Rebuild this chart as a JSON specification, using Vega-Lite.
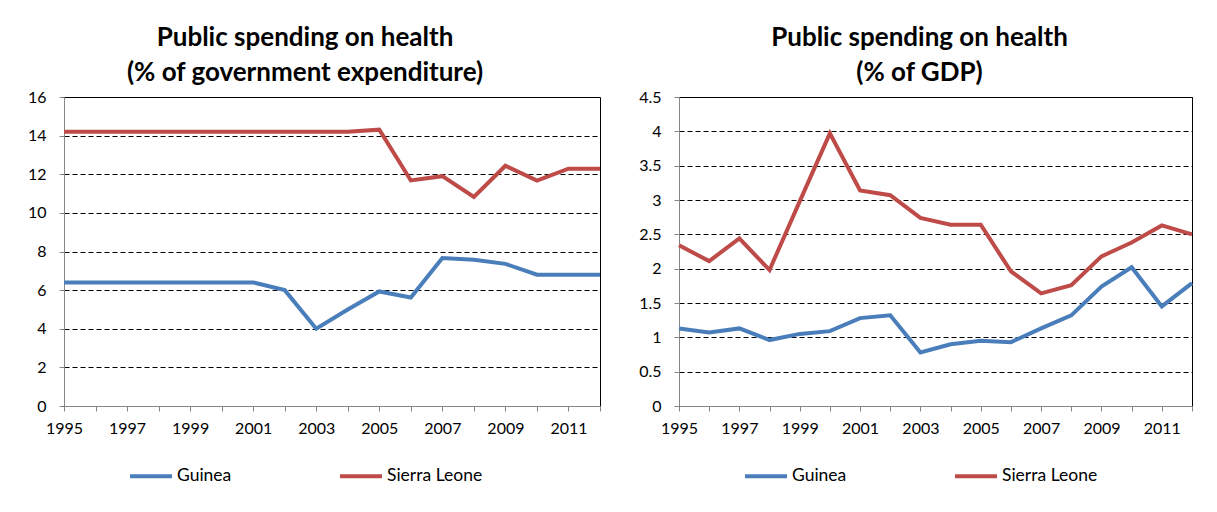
{
  "$schema": "https://vega.github.io/schema/vega-lite/v6.json",
  "background": "white",
  "padding": {"left": 26, "top": 24, "right": 0, "bottom": 0},
  "spacing": 29,
  "datasets": {
    "gov": [
      {"year": 1995, "country": "Guinea", "value": 6.4},
      {"year": 1996, "country": "Guinea", "value": 6.4},
      {"year": 1997, "country": "Guinea", "value": 6.4},
      {"year": 1998, "country": "Guinea", "value": 6.4},
      {"year": 1999, "country": "Guinea", "value": 6.4},
      {"year": 2000, "country": "Guinea", "value": 6.4},
      {"year": 2001, "country": "Guinea", "value": 6.4},
      {"year": 2002, "country": "Guinea", "value": 6.0},
      {"year": 2003, "country": "Guinea", "value": 4.0},
      {"year": 2004, "country": "Guinea", "value": 5.0},
      {"year": 2005, "country": "Guinea", "value": 5.93},
      {"year": 2006, "country": "Guinea", "value": 5.62},
      {"year": 2007, "country": "Guinea", "value": 7.66},
      {"year": 2008, "country": "Guinea", "value": 7.57},
      {"year": 2009, "country": "Guinea", "value": 7.36},
      {"year": 2010, "country": "Guinea", "value": 6.8},
      {"year": 2011, "country": "Guinea", "value": 6.8},
      {"year": 2012, "country": "Guinea", "value": 6.8},
      {"year": 1995, "country": "Sierra Leone", "value": 14.2},
      {"year": 1996, "country": "Sierra Leone", "value": 14.2},
      {"year": 1997, "country": "Sierra Leone", "value": 14.2},
      {"year": 1998, "country": "Sierra Leone", "value": 14.2},
      {"year": 1999, "country": "Sierra Leone", "value": 14.2},
      {"year": 2000, "country": "Sierra Leone", "value": 14.2},
      {"year": 2001, "country": "Sierra Leone", "value": 14.2},
      {"year": 2002, "country": "Sierra Leone", "value": 14.2},
      {"year": 2003, "country": "Sierra Leone", "value": 14.2},
      {"year": 2004, "country": "Sierra Leone", "value": 14.2},
      {"year": 2005, "country": "Sierra Leone", "value": 14.31},
      {"year": 2006, "country": "Sierra Leone", "value": 11.68},
      {"year": 2007, "country": "Sierra Leone", "value": 11.9},
      {"year": 2008, "country": "Sierra Leone", "value": 10.82},
      {"year": 2009, "country": "Sierra Leone", "value": 12.44},
      {"year": 2010, "country": "Sierra Leone", "value": 11.67},
      {"year": 2011, "country": "Sierra Leone", "value": 12.29},
      {"year": 2012, "country": "Sierra Leone", "value": 12.29}
    ],
    "gdp": [
      {"year": 1995, "country": "Guinea", "value": 1.13},
      {"year": 1996, "country": "Guinea", "value": 1.07},
      {"year": 1997, "country": "Guinea", "value": 1.13},
      {"year": 1998, "country": "Guinea", "value": 0.96},
      {"year": 1999, "country": "Guinea", "value": 1.05},
      {"year": 2000, "country": "Guinea", "value": 1.09},
      {"year": 2001, "country": "Guinea", "value": 1.28},
      {"year": 2002, "country": "Guinea", "value": 1.32},
      {"year": 2003, "country": "Guinea", "value": 0.78},
      {"year": 2004, "country": "Guinea", "value": 0.9},
      {"year": 2005, "country": "Guinea", "value": 0.95},
      {"year": 2006, "country": "Guinea", "value": 0.93},
      {"year": 2007, "country": "Guinea", "value": 1.13},
      {"year": 2008, "country": "Guinea", "value": 1.32},
      {"year": 2009, "country": "Guinea", "value": 1.74},
      {"year": 2010, "country": "Guinea", "value": 2.02},
      {"year": 2011, "country": "Guinea", "value": 1.45},
      {"year": 2012, "country": "Guinea", "value": 1.79},
      {"year": 1995, "country": "Sierra Leone", "value": 2.34},
      {"year": 1996, "country": "Sierra Leone", "value": 2.11},
      {"year": 1997, "country": "Sierra Leone", "value": 2.44},
      {"year": 1998, "country": "Sierra Leone", "value": 1.98},
      {"year": 1999, "country": "Sierra Leone", "value": 2.98},
      {"year": 2000, "country": "Sierra Leone", "value": 3.97},
      {"year": 2001, "country": "Sierra Leone", "value": 3.14},
      {"year": 2002, "country": "Sierra Leone", "value": 3.07},
      {"year": 2003, "country": "Sierra Leone", "value": 2.74},
      {"year": 2004, "country": "Sierra Leone", "value": 2.64},
      {"year": 2005, "country": "Sierra Leone", "value": 2.64},
      {"year": 2006, "country": "Sierra Leone", "value": 1.96},
      {"year": 2007, "country": "Sierra Leone", "value": 1.64},
      {"year": 2008, "country": "Sierra Leone", "value": 1.76},
      {"year": 2009, "country": "Sierra Leone", "value": 2.18},
      {"year": 2010, "country": "Sierra Leone", "value": 2.38},
      {"year": 2011, "country": "Sierra Leone", "value": 2.63},
      {"year": 2012, "country": "Sierra Leone", "value": 2.5}
    ]
  },
  "hconcat": [
    {
      "width": 536,
      "height": 309,
      "data": {"name": "gov"},
      "title": {"text": ["Public spending on health", "(% of government expenditure)"], "dx": -27},
      "mark": {"type": "line", "strokeWidth": 4},
      "encoding": {
        "x": {"field": "year", "type": "quantitative",
              "scale": {"domain": [1995, 2012], "nice": false, "zero": false},
              "axis": {"values": [1995,1996,1997,1998,1999,2000,2001,2002,2003,2004,2005,2006,2007,2008,2009,2010,2011,2012],
                       "labelExpr": "datum.value % 2 == 1 ? '' + datum.value : ''", "grid": false, "title": null, "labelFlush": false}},
        "y": {"field": "value", "type": "quantitative",
              "scale": {"domain": [0, 16], "nice": false},
              "axis": {"values": [0,2,4,6,8,10,12,14,16], "labelExpr": "'' + datum.value", "title": null}},
        "color": {"field": "country", "type": "nominal",
                  "scale": {"domain": ["Guinea", "Sierra Leone"], "range": ["#4A7EBB", "#BE4B48"]},
                  "legend": {"title": null, "orient": "none", "legendX": 64, "legendY": 356, "direction": "horizontal"}}
      }
    },
    {
      "width": 513,
      "height": 309,
      "data": {"name": "gdp"},
      "title": {"text": ["Public spending on health", "(% of GDP)"], "dx": -16},
      "mark": {"type": "line", "strokeWidth": 4},
      "encoding": {
        "x": {"field": "year", "type": "quantitative",
              "scale": {"domain": [1995, 2012], "nice": false, "zero": false},
              "axis": {"values": [1995,1996,1997,1998,1999,2000,2001,2002,2003,2004,2005,2006,2007,2008,2009,2010,2011,2012],
                       "labelExpr": "datum.value % 2 == 1 ? '' + datum.value : ''", "grid": false, "title": null, "labelFlush": false}},
        "y": {"field": "value", "type": "quantitative",
              "scale": {"domain": [0, 4.5], "nice": false},
              "axis": {"values": [0,0.5,1,1.5,2,2.5,3,3.5,4,4.5], "labelExpr": "'' + datum.value", "title": null}},
        "color": {"field": "country", "type": "nominal",
                  "scale": {"domain": ["Guinea", "Sierra Leone"], "range": ["#4A7EBB", "#BE4B48"]},
                  "legend": {"title": null, "orient": "none", "legendX": 64, "legendY": 356, "direction": "horizontal"}}
      }
    }
  ],
  "resolve": {"scale": {"color": "independent"}, "legend": {"color": "independent"}},
  "config": {
    "font": "Lato",
    "view": {"stroke": "black", "strokeWidth": 1},
    "title": {"font": "Lato", "fontSize": 26, "fontWeight": "bold", "color": "black", "lineHeight": 35, "offset": 3, "anchor": "middle", "frame": "group"},
    "axis": {
      "labelFont": "Lato", "labelFontSize": 16, "labelColor": "black",
      "domainColor": "#868686", "tickColor": "#868686", "tickSize": 5,
      "labelPadding": 9,
      "gridColor": "black", "gridDash": [5, 3], "gridWidth": 1, "gridOpacity": 1,
      "labelOverlap": false
    },
    "axisY": {"labelPadding": 13},
    "legend": {
      "labelFont": "Lato", "labelFontSize": 17.5, "labelColor": "black",
      "symbolType": "stroke", "symbolSize": 1764, "symbolStrokeWidth": 4,
      "labelOffset": 3, "columnPadding": 100, "padding": 0
    }
  }
}
